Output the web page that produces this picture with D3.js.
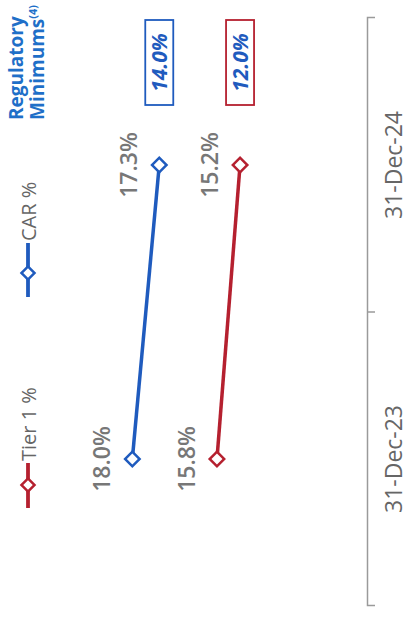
<!DOCTYPE html>
<html>
<head>
<meta charset="utf-8">
<script src="https://cdn.jsdelivr.net/npm/d3@7"></script>
<style>
  html, body { margin: 0; padding: 0; background: #fff; }
  svg { display: block; }
</style>
</head>
<body>
<script>
// ---- data ----
const categories = ["31-Dec-23", "31-Dec-24"];
const seriesNames = ["Tier 1 %", "CAR %"];
const tier1Values = [15.8, 15.2];
const carValues = [18.0, 17.3];
const minimumLabels = ["12.0%", "14.0%"]; // Tier 1, CAR
const headerLines = ["Regulatory", "Minimums"];
const headerSup = "(4)";

const W = 411, H = 626;
const blue = "#1F5BBE", red = "#B5202F", gray = "#777";
const font = "'Open Sans', sans-serif";

const svg = d3.select("body").append("svg").attr("width", W).attr("height", H);
svg.append("rect").attr("width", W).attr("height", H).attr("fill", "#fff");

// inner frame is rotated: inner width = 626, inner height = 411
const g = svg.append("g").attr("transform", `translate(0,${H}) rotate(-90)`);

const x = d3.scaleBand().domain(categories).range([20, 608]).padding(0);
const y = d3.scaleLinear().domain([11.9, 21.44]).range([367, 0]);
const cx = c => x(c) + x.bandwidth() / 2;

// axis
const ax = g.append("g").attr("transform", "translate(0,367)")
  .call(d3.axisBottom(x).tickSizeInner(0).tickSizeOuter(8).tickPadding(0));
ax.select(".domain").attr("stroke", "#9a9a9a").attr("stroke-width", 1.5);
ax.append("line").attr("x1", x(categories[1])).attr("x2", x(categories[1]))
  .attr("y1", 0).attr("y2", 8).attr("stroke", "#9a9a9a").attr("stroke-width", 1.5);
ax.selectAll(".tick text").attr("dy", null).attr("y", 35)
  .attr("font-family", font).attr("font-size", 23).attr("fill", "#666");

const series = [
  { name: seriesNames[0], values: tier1Values, color: red, min: minimumLabels[0] },
  { name: seriesNames[1], values: carValues, color: blue, min: minimumLabels[1] }
];

const line = d3.line().x((d, i) => cx(categories[i])).y(d => y(d));
const diamond = d3.symbol(d3.symbolSquare, 105);

series.forEach(s => {
  g.append("path").attr("d", line(s.values)).attr("fill", "none")
    .attr("stroke", s.color).attr("stroke-width", 3.5);
  s.values.forEach((v, i) => {
    g.append("path").attr("d", diamond())
      .attr("transform", `translate(${cx(categories[i])},${y(v)}) rotate(45)`)
      .attr("fill", "#fff").attr("stroke", s.color).attr("stroke-width", 2.5);
    g.append("text").attr("x", cx(categories[i])).attr("y", y(v) - 31)
      .attr("text-anchor", "middle").attr("dominant-baseline", "central")
      .attr("font-family", font).attr("font-weight", 600).attr("font-size", 23)
      .attr("fill", gray).text(d3.format(".1f")(v) + "%");
  });
  // regulatory minimum box aligned with last point level
  const by = y(s.values[s.values.length - 1]);
  g.append("rect").attr("x", 521).attr("y", by - 14).attr("width", 85).attr("height", 28)
    .attr("fill", "#fff").attr("stroke", s.color).attr("stroke-width", 1.8);
  g.append("text").attr("x", 563.5).attr("y", by).attr("text-anchor", "middle")
    .attr("dominant-baseline", "central").attr("font-family", font)
    .attr("font-weight", 700).attr("font-style", "italic").attr("font-size", 21)
    .attr("fill", blue).text(s.min);
});

// legend
const legendPos = [{ x0: 118, x1: 163, m: 141 }, { x0: 329, x1: 383, m: 353 }];
series.forEach((s, i) => {
  const p = legendPos[i];
  g.append("line").attr("x1", p.x0).attr("x2", p.x1).attr("y1", 28).attr("y2", 28)
    .attr("stroke", s.color).attr("stroke-width", 3.8);
  g.append("path").attr("d", d3.symbol(d3.symbolSquare, 85)())
    .attr("transform", `translate(${p.m},28) rotate(45)`)
    .attr("fill", "#fff").attr("stroke", s.color).attr("stroke-width", 2.5);
  g.append("text").attr("x", p.x1 + 2).attr("y", 28).attr("dominant-baseline", "central")
    .attr("font-family", font).attr("font-size", 20).attr("fill", "#666").text(s.name);
});

// header
g.append("text").attr("x", 506).attr("y", 23).attr("font-family", font)
  .attr("font-weight", 700).attr("font-size", 19).attr("fill", "#1F6FC8").text(headerLines[0]);
const t2 = g.append("text").attr("x", 506).attr("y", 44).attr("font-family", font)
  .attr("font-weight", 700).attr("font-size", 19).attr("fill", "#1F6FC8");
t2.append("tspan").text(headerLines[1]);
t2.append("tspan").attr("font-size", 11).attr("dy", -7).text(headerSup);
</script>
</body>
</html>
